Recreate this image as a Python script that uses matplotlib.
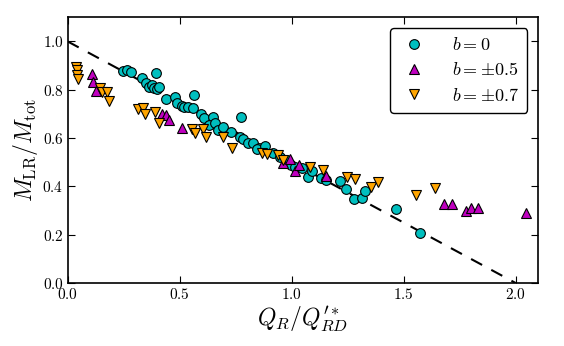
import matplotlib
matplotlib.use("Agg")
import matplotlib.pyplot as plt
from matplotlib.ticker import FuncFormatter, MultipleLocator

plt.rcParams['mathtext.fontset'] = 'cm'
plt.rcParams['font.family'] = ['DejaVu Serif']

# b = 0
x_b0 = [0.248, 0.264, 0.283, 0.394, 0.331, 0.350, 0.364, 0.375, 0.385, 0.397,
        0.408, 0.565, 0.439, 0.479, 0.487, 0.509, 0.519, 0.538, 0.558, 0.594,
        0.608, 0.650, 0.772, 0.632, 0.657, 0.672, 0.694, 0.727, 0.769, 0.781,
        0.806, 0.828, 0.854, 0.846, 0.880, 0.917, 0.947, 0.977, 0.999, 1.014,
        1.044, 1.074, 1.089, 1.133, 1.153, 1.215, 1.242, 1.277, 1.316, 1.327,
        1.468, 1.575]
y_b0 = [0.879, 0.882, 0.875, 0.868, 0.848, 0.827, 0.813, 0.820, 0.806, 0.802,
        0.813, 0.778, 0.762, 0.769, 0.747, 0.733, 0.728, 0.730, 0.725, 0.699,
        0.682, 0.686, 0.686, 0.654, 0.661, 0.634, 0.647, 0.627, 0.606, 0.596,
        0.578, 0.581, 0.558, 0.554, 0.567, 0.537, 0.523, 0.509, 0.489, 0.482,
        0.475, 0.440, 0.465, 0.434, 0.427, 0.422, 0.388, 0.347, 0.351, 0.381,
        0.305, 0.206]

# b = +-0.5
x_b05 = [0.107, 0.112, 0.125, 0.422, 0.439, 0.454, 0.512, 0.962, 0.992, 1.014,
         1.034, 1.153, 1.680, 1.716, 1.780, 1.802, 1.832, 2.048]
y_b05 = [0.865, 0.834, 0.796, 0.700, 0.696, 0.675, 0.641, 0.496, 0.512, 0.465,
         0.487, 0.443, 0.326, 0.326, 0.298, 0.312, 0.312, 0.289]

# b = +-0.7
x_b07 = [0.035, 0.040, 0.043, 0.048, 0.145, 0.155, 0.174, 0.185, 0.313, 0.338,
         0.345, 0.390, 0.409, 0.554, 0.568, 0.603, 0.616, 0.692, 0.732, 0.868,
         0.888, 0.940, 0.962, 1.081, 1.138, 1.248, 1.282, 1.353, 1.386, 1.557,
         1.642]
y_b07 = [0.893, 0.880, 0.861, 0.843, 0.806, 0.792, 0.792, 0.755, 0.719, 0.723,
         0.699, 0.709, 0.661, 0.636, 0.622, 0.636, 0.606, 0.606, 0.558, 0.540,
         0.534, 0.530, 0.509, 0.482, 0.468, 0.438, 0.429, 0.396, 0.419, 0.364,
         0.392]

line_x = [0.0, 2.0]
line_y = [1.0, 0.0]

fig = plt.figure(figsize=(5.64, 3.46), dpi=100)
ax = fig.add_axes([0.12, 0.182, 0.834, 0.768])

ax.plot(line_x, line_y, color='black', lw=1.5, dashes=(6, 5), zorder=1)
ms = 7
ax.plot(x_b0, y_b0, 'o', color=(0, 0.75, 0.75), mec='black', mew=0.8, ms=ms,
        ls='none', label=r'$b=0$', zorder=3)
ax.plot(x_b05, y_b05, '^', color=(0.75, 0, 0.75), mec='black', mew=0.8, ms=ms,
        ls='none', label=r'$b=\pm0.5$', zorder=3)
ax.plot(x_b07, y_b07, 'v', color='#FFA500', mec='black', mew=0.8, ms=ms,
        ls='none', label=r'$b=\pm0.7$', zorder=3)

ax.set_xlim(0, 2.1)
ax.set_ylim(0, 1.1)
ax.xaxis.set_major_locator(MultipleLocator(0.5))
ax.yaxis.set_major_locator(MultipleLocator(0.2))
fmt = FuncFormatter(lambda v, p: r'$%.1f$' % v)
ax.xaxis.set_major_formatter(fmt)
ax.yaxis.set_major_formatter(fmt)
ax.tick_params(direction='in', top=True, right=True, length=5, width=0.8,
               labelsize=11, pad=3)
for s in ax.spines.values():
    s.set_linewidth(1.2)

ax.set_xlabel(r"$Q_R/Q_{RD}^{\prime *}$", fontsize=17, labelpad=2)
ax.set_ylabel(r"$M_{\rm LR}/M_{\rm tot}$", fontsize=17, labelpad=2)

leg = ax.legend(loc='upper right', numpoints=1, fontsize=13, fancybox=True,
                frameon=True, borderpad=0.45, handletextpad=1.2,
                labelspacing=0.4, borderaxespad=0.6, handlelength=1.8)
leg.get_frame().set_edgecolor('black')
leg.get_frame().set_linewidth(1.0)
leg.get_frame().set_alpha(1)

fig.savefig('out.png', dpi=100)
